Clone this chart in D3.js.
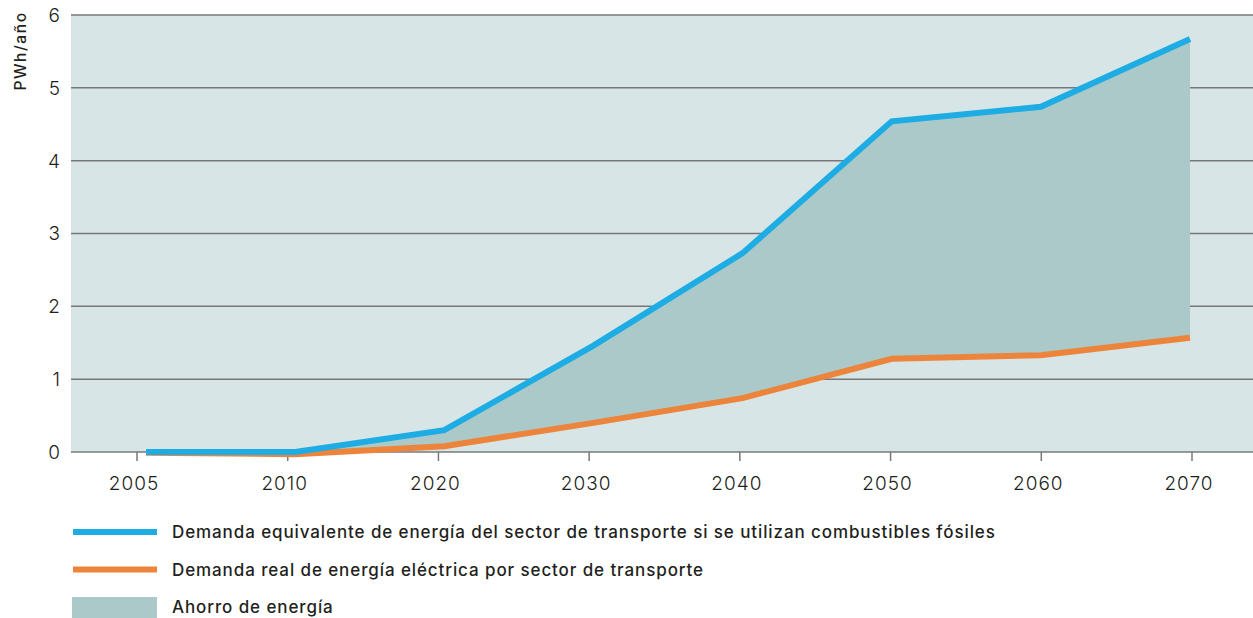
<!DOCTYPE html>
<html>
<head>
<meta charset="utf-8">
<script src="https://cdn.jsdelivr.net/npm/d3@7"></script>
<style>
  body { margin: 0; background: #fff; }
  text { font-family: "Inter", "DejaVu Sans", sans-serif; fill: #231f20; }
</style>
</head>
<body>
<div id="chart"></div>
<script>
const years = ['2005', '2010', '2020', '2030', '2040', '2050', '2060', '2070'];
const fossilDemand = [0.0, 0.0, 0.30, 1.46, 2.73, 4.54, 4.74, 5.67];
const electricDemand = [-0.01, -0.03, 0.08, 0.40, 0.74, 1.28, 1.33, 1.57];
const yTicks = [0, 1, 2, 3, 4, 5, 6];
const legendItems = [
    {label: 'Demanda equivalente de energía del sector de transporte si se utilizan combustibles fósiles', type: 'line', color: '#1dace3'},
    {label: 'Demanda real de energía eléctrica por sector de transporte', type: 'line', color: '#ec853b'},
    {label: 'Ahorro de energía', type: 'area', color: '#aac9c8'}
];

let width = 1253,
    height = 618,
    plotLeft = 71,
    plotRight = 1253,
    plotTop = 15,
    plotBottom = 452;

let svg = d3.select('#chart').append('svg')
    .attr('width', width)
    .attr('height', height);

// tick positions and data positions are slightly offset in the original
let xTick = d3.scalePoint().domain(years).range([137, 1192]);
let x = d3.scalePoint().domain(years).range([146, 1190]);
let y = d3.scaleLinear().domain([0, 6]).range([plotBottom, plotTop]);

// plot background
svg.append('rect')
    .attr('x', plotLeft)
    .attr('y', plotTop)
    .attr('width', plotRight - plotLeft)
    .attr('height', plotBottom - plotTop)
    .attr('fill', '#d8e5e6');

// gridlines
svg.append('g').selectAll('line')
    .data(yTicks)
    .join('line')
    .attr('x1', plotLeft)
    .attr('x2', plotRight)
    .attr('y1', d => y(d))
    .attr('y2', d => y(d))
    .attr('stroke', '#77787b')
    .attr('stroke-width', 1.5);

// y tick labels
svg.append('g').selectAll('text')
    .data(yTicks)
    .join('text')
    .attr('x', 60)
    .attr('y', d => y(d))
    .attr('dy', '0.36em')
    .attr('text-anchor', 'end')
    .attr('font-size', 19)
    .attr('font-weight', 300)
    .text(d => d);

svg.append('text')
    .attr('transform', 'translate(26,51) rotate(-90)')
    .attr('text-anchor', 'middle')
    .attr('font-size', 15.5)
    .attr('font-weight', 500)
    .attr('letter-spacing', 1.6)
    .text('PWh/año');

// x ticks and labels
let xAxis = svg.append('g');
xAxis.selectAll('line')
    .data(years)
    .join('line')
    .attr('x1', d => xTick(d))
    .attr('x2', d => xTick(d))
    .attr('y1', plotBottom)
    .attr('y2', plotBottom + 9)
    .attr('stroke', '#77787b')
    .attr('stroke-width', 1.5);
xAxis.selectAll('text')
    .data(years)
    .join('text')
    .attr('x', d => xTick(d) - 3)
    .attr('y', 490)
    .attr('text-anchor', 'middle')
    .attr('font-size', 19)
    .attr('font-weight', 300)
    .attr('letter-spacing', 1)
    .text(d => d);

// savings area between the two series
let area = d3.area()
    .x((d, i) => x(years[i]))
    .y0((d, i) => y(electricDemand[i]))
    .y1(d => y(d));

svg.append('path')
    .datum(fossilDemand)
    .attr('d', area)
    .attr('fill', '#aac9c8');

let line = d3.line()
    .x((d, i) => x(years[i]))
    .y(d => y(d));

svg.append('path')
    .datum(electricDemand)
    .attr('d', line)
    .attr('fill', 'none')
    .attr('stroke', '#ec853b')
    .attr('stroke-width', 6);

svg.append('path')
    .datum(fossilDemand)
    .attr('d', line)
    .attr('fill', 'none')
    .attr('stroke', '#1dace3')
    .attr('stroke-width', 6);

// legend
let legend = svg.append('g').selectAll('g')
    .data(legendItems)
    .join('g')
    .attr('transform', (d, i) => 'translate(0,' + (532 + i * 37.5) + ')');

legend.filter(d => d.type === 'line').append('rect')
    .attr('x', 73)
    .attr('y', -3)
    .attr('width', 84)
    .attr('height', 6)
    .attr('fill', d => d.color);

legend.filter(d => d.type === 'area').append('rect')
    .attr('x', 72)
    .attr('y', -10)
    .attr('width', 85)
    .attr('height', 21)
    .attr('fill', d => d.color);

legend.append('text')
    .attr('x', 172)
    .attr('dy', '0.36em')
    .attr('font-size', 17)
    .attr('font-weight', 500)
    .attr('letter-spacing', 0.9)
    .text(d => d.label);
</script>
</body>
</html>
